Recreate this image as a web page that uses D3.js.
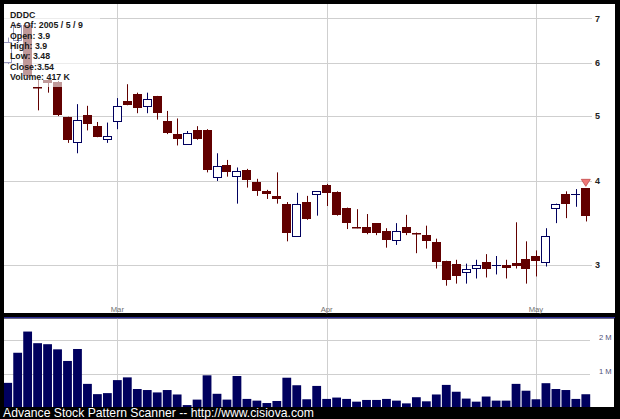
<!DOCTYPE html>
<html><head><meta charset="utf-8">
<script src="https://cdn.jsdelivr.net/npm/d3@7/dist/d3.min.js"></script>
<style>html,body{margin:0;padding:0;background:#000;}svg{display:block;}</style>
</head><body>
<svg id="chart" width="620" height="419"></svg>
<script>
// ---------- data ----------
const symbol = "DDDC";
const dates = [
 "2005-02-11","2005-02-14","2005-02-15","2005-02-16","2005-02-17","2005-02-18","2005-02-22","2005-02-23","2005-02-24","2005-02-25","2005-02-28",
 "2005-03-01","2005-03-02","2005-03-03","2005-03-04","2005-03-07","2005-03-08","2005-03-09","2005-03-10","2005-03-11","2005-03-14","2005-03-15",
 "2005-03-16","2005-03-17","2005-03-18","2005-03-21","2005-03-22","2005-03-23","2005-03-24","2005-03-29","2005-03-30","2005-03-31",
 "2005-04-01","2005-04-04","2005-04-05","2005-04-06","2005-04-07","2005-04-08","2005-04-11","2005-04-12","2005-04-13","2005-04-14","2005-04-15",
 "2005-04-18","2005-04-19","2005-04-20","2005-04-21","2005-04-22","2005-04-25","2005-04-26","2005-04-27","2005-04-28","2005-04-29",
 "2005-05-02","2005-05-03","2005-05-04","2005-05-05","2005-05-06","2005-05-09"
];
const open  = [6.02,6.50,6.85,5.52,5.66,5.62,4.98,4.58,5.02,4.83,4.62,4.92,5.27,5.39,5.18,5.36,4.92,4.70,4.55,4.77,4.77,4.06,4.22,4.07,4.16,3.98,3.86,3.80,3.70,3.31,3.72,3.82,3.95,3.85,3.65,3.42,3.42,3.46,3.37,3.27,3.41,3.35,3.32,3.24,3.04,3.01,2.92,2.97,3.03,3.00,3.00,3.02,3.06,3.09,3.03,3.64,3.83,3.82,3.9];
const high  = [6.55,6.90,6.90,5.66,5.68,5.64,4.99,5.21,5.18,4.90,4.89,5.32,5.58,5.42,5.42,5.36,5.09,4.96,4.75,4.83,4.78,4.40,4.30,4.19,4.17,4.03,3.88,4.12,3.72,3.84,3.80,3.86,3.96,3.86,3.65,3.63,3.57,3.46,3.40,3.46,3.56,3.35,3.43,3.28,3.04,3.05,3.01,3.05,3.11,3.09,3.05,3.47,3.25,3.15,3.40,3.70,3.86,3.89,3.9];
const low   = [5.98,6.45,5.70,5.10,5.42,5.00,4.56,4.40,4.76,4.65,4.56,4.78,5.19,5.05,5.05,4.94,4.70,4.52,4.55,4.61,4.12,4.00,4.06,3.70,3.91,3.80,3.76,3.70,3.25,3.31,3.50,3.55,3.67,3.55,3.39,3.40,3.33,3.32,3.18,3.21,3.32,3.12,3.17,2.96,2.79,2.81,2.81,2.86,2.87,2.90,2.86,2.96,2.81,2.88,2.98,3.46,3.52,3.66,3.48];
const close = [6.45,6.85,5.74,5.50,5.60,5.02,4.60,4.94,4.86,4.66,4.67,5.18,5.20,5.15,5.30,5.05,4.71,4.62,4.71,4.62,4.15,4.21,4.12,4.14,4.02,3.87,3.82,3.76,3.35,3.70,3.51,3.86,3.84,3.56,3.46,3.40,3.35,3.34,3.27,3.37,3.34,3.33,3.25,3.03,2.85,2.88,2.95,3.00,2.96,3.00,2.97,2.99,2.95,3.04,3.31,3.69,3.69,3.82,3.54];
const volume = [750000,1630000,2250000,1910000,1880000,1730000,1390000,1740000,720000,420000,450000,830000,910000,570000,540000,470000,540000,410000,100000,260000,970000,430000,260000,950000,280000,230000,160000,220000,900000,680000,270000,660000,280000,320000,280000,200000,250000,250000,280000,230000,150000,330000,210000,410000,690000,490000,290000,200000,350000,230000,230000,720000,520000,270000,740000,570000,540000,280000,417000];
const priceTicks = [3,4,5,6,7];
const volumeTicks = [1000000, 2000000];
const volumeTickLabels = ["1 M","2 M"];
const monthStarts = ["2005-03-01","2005-04-01","2005-05-02"];
const monthLabels = ["Mar","Apr","May"];
const footer = "Advance Stock Pattern Scanner -- http://www.cisiova.com";

// ---------- drawing ----------
const n = dates.length;
const last = n - 1;
const svg = d3.select("#chart");
const MAROON = "#620000", NAVY = "#00005e", GRID = "#cfcfcf";
const FONT = "'Liberation Sans', Arial, sans-serif";

const x = d3.scaleLinear().domain([0, last]).range([7.7, 585.8]);
const y = d3.scaleLog().domain([3, 7]).range([264.6, 18.3]);
const yv = d3.scaleLinear().domain([0, 2000000]).range([408.5, 340.1]);
const px = v => Math.round(v) + 0.5;

const P = {x0: 4, y0: 4, x1: 615, y1: 313};
const V = {x0: 4, y0: 318.5, x1: 614, y1: 407};

svg.append("rect").attr("width", 620).attr("height", 419).attr("fill", "#000");
svg.append("rect").attr("x", P.x0).attr("y", P.y0).attr("width", P.x1 - P.x0).attr("height", P.y1 - P.y0).attr("fill", "#fff");
svg.append("rect").attr("x", V.x0).attr("y", V.y0).attr("width", V.x1 - V.x0).attr("height", V.y1 - V.y0).attr("fill", "#fff");
svg.append("line").attr("x1", 4).attr("x2", 615).attr("y1", 317.6).attr("y2", 317.6).attr("stroke", "#2c2c94").attr("stroke-width", 1.4);

const defs = svg.append("defs");
defs.append("clipPath").attr("id", "cp").append("rect").attr("x", P.x0).attr("y", P.y0).attr("width", P.x1 - P.x0).attr("height", P.y1 - P.y0);
defs.append("clipPath").attr("id", "cv").append("rect").attr("x", V.x0).attr("y", V.y0).attr("width", V.x1 - V.x0).attr("height", V.y1 - V.y0);

const gp = svg.append("g").attr("clip-path", "url(#cp)");
const gv = svg.append("g").attr("clip-path", "url(#cv)");

// price grid
gp.selectAll("line.hg").data(priceTicks).join("line")
  .attr("x1", P.x0).attr("x2", 592).attr("y1", d => px(y(d))).attr("y2", d => px(y(d)))
  .attr("stroke", GRID).attr("stroke-width", 1);
svg.selectAll("text.pt").data(priceTicks).join("text")
  .attr("x", 595).attr("y", d => y(d) + 3.3).text(d => d)
  .attr("font-family", FONT).attr("font-size", 9).attr("font-weight", "bold").attr("fill", "#222");

// month grid
const monthIdx = monthStarts.map(m => dates.indexOf(m));
gp.selectAll("line.mg").data(monthIdx).join("line")
  .attr("x1", d => px(x(d))).attr("x2", d => px(x(d))).attr("y1", P.y0).attr("y2", P.y1)
  .attr("stroke", GRID);
gv.selectAll("line.mg").data(monthIdx).join("line")
  .attr("x1", d => px(x(d))).attr("x2", d => px(x(d))).attr("y1", V.y0).attr("y2", V.y1)
  .attr("stroke", GRID);
svg.selectAll("text.ml").data(monthIdx).join("text")
  .attr("x", d => x(d)).attr("y", 311.5).attr("text-anchor", "middle").text((d, i) => monthLabels[i])
  .attr("font-family", FONT).attr("font-size", 7.7).attr("fill", "#707070");

// volume grid
gv.selectAll("line.vg").data(volumeTicks).join("line")
  .attr("x1", V.x0).attr("x2", 590).attr("y1", d => px(yv(d))).attr("y2", d => px(yv(d)))
  .attr("stroke", GRID);
svg.selectAll("text.vt").data(volumeTicks).join("text")
  .attr("x", 599).attr("y", d => yv(d) - 0.5).text((d, i) => volumeTickLabels[i])
  .attr("font-family", FONT).attr("font-size", 7.6).attr("fill", "#505078");

// volume bars
gv.selectAll("rect.vb").data(d3.range(n)).join("rect")
  .attr("x", i => x(i) - 4.4).attr("width", 8.8)
  .attr("y", i => yv(volume[i])).attr("height", i => yv(0) - yv(volume[i]))
  .attr("fill", NAVY);

// candles
const cg = gp.selectAll("g.c").data(d3.range(n)).join("g");
cg.each(function(i) {
  const g = d3.select(this);
  const cx = px(x(i));
  const up = close[i] > open[i];
  const doji = close[i] === open[i];
  const col = (up || doji) ? NAVY : MAROON;
  g.append("line").attr("x1", cx).attr("x2", cx).attr("y1", y(high[i])).attr("y2", y(low[i]))
    .attr("stroke", col).attr("stroke-width", 1);
  const left = Math.round(x(i) - 4.5);
  if (doji) {
    g.append("line").attr("x1", left).attr("x2", left + 9).attr("y1", px(y(open[i]))).attr("y2", px(y(open[i])))
      .attr("stroke", col);
  } else if (up) {
    const top = y(close[i]), bot = y(open[i]);
    g.append("rect").attr("x", left + 0.5).attr("width", 8)
      .attr("y", Math.round(top) + 0.5).attr("height", Math.max(1, Math.round(bot) - Math.round(top)))
      .attr("fill", "#fff").attr("stroke", col).attr("stroke-width", 1);
  } else {
    const top = y(open[i]), bot = y(close[i]);
    g.append("rect").attr("x", left).attr("width", 9)
      .attr("y", Math.round(top)).attr("height", Math.max(1.5, Math.round(bot) - Math.round(top)))
      .attr("fill", col);
  }
});

// signal marker above last candle
const mx = x(last), my = y(high[last]) - 2;
gp.append("path")
  .attr("d", d3.line()([[mx - 4.5, my - 7], [mx + 4.5, my - 7], [mx, my]]) + "Z")
  .attr("fill", "#ee7878").attr("stroke", "#c04848").attr("stroke-width", 0.8);

// legend
gp.append("rect").attr("x", 4).attr("y", 4).attr("width", 96).attr("height", 83)
  .attr("fill", "#fff").attr("fill-opacity", 0.6);
const dp = dates[last].split("-").map(Number);
const fmtVol = v => Math.round(v / 1000) + " K";
const legendLines = [
  symbol,
  `As Of: ${dp[0]} / ${dp[1]} / ${dp[2]}`,
  `Open: ${open[last]}`,
  `High: ${high[last]}`,
  `Low: ${low[last]}`,
  `Close:${close[last]}`,
  `Volume: ${fmtVol(volume[last])}`
];
svg.selectAll("text.lg").data(legendLines).join("text")
  .attr("x", 10).attr("y", (d, i) => 17.8 + i * 10.35).text(d => d)
  .attr("font-family", FONT).attr("font-size", 8.8).attr("font-weight", "bold").attr("fill", "#1a1a1a");

// footer
svg.append("text").attr("x", 3).attr("y", 417).text(footer)
  .attr("font-family", FONT).attr("font-size", 12.2).attr("fill", "#fff");
</script>
</body></html>
